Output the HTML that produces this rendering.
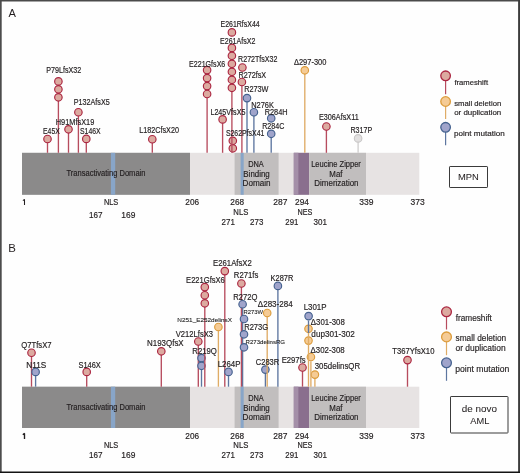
<!DOCTYPE html>
<html><head><meta charset="utf-8"><style>
html,body{margin:0;padding:0;background:#fff;}
svg{display:block;will-change:transform;}
text{font-family:"Liberation Sans",sans-serif;}
</style></head><body>
<svg width="520" height="473" viewBox="0 0 520 473">
<rect width="520" height="473" fill="#fefefe"/>
<rect x="22" y="152.8" width="397.3" height="42.0" fill="#e7e3e3"/>
<rect x="22" y="152.8" width="168" height="42.0" fill="#8b8a8a"/>
<rect x="234.6" y="152.8" width="44.00000000000003" height="42.0" fill="#c1bebe"/>
<rect x="293.8" y="152.8" width="15.300000000000011" height="42.0" fill="#8a6f8e"/>
<rect x="293.8" y="152.8" width="4.599999999999966" height="42.0" fill="#a48fa8"/>
<rect x="309.2" y="152.8" width="56.80000000000001" height="42.0" fill="#c1bebe"/>
<rect x="110.9" y="152.8" width="4.3" height="42.0" fill="#88a5c8"/>
<rect x="240.6" y="152.8" width="3.1" height="42.0" fill="#88a5c8"/>
<line x1="47.5" y1="139.0" x2="47.5" y2="152.8" stroke="#b74c5e" stroke-width="1.35"/>
<circle cx="47.5" cy="139.0" r="3.75" fill="#dcaaa0" stroke="#ab2641" stroke-width="1.15"/>
<line x1="58.4" y1="81.4" x2="58.4" y2="152.8" stroke="#b74c5e" stroke-width="1.35"/>
<circle cx="58.4" cy="81.4" r="3.75" fill="#dcaaa0" stroke="#ab2641" stroke-width="1.15"/>
<circle cx="58.4" cy="89.3" r="3.75" fill="#dcaaa0" stroke="#ab2641" stroke-width="1.15"/>
<circle cx="58.4" cy="97.3" r="3.75" fill="#dcaaa0" stroke="#ab2641" stroke-width="1.15"/>
<line x1="68.5" y1="129.3" x2="68.5" y2="152.8" stroke="#b74c5e" stroke-width="1.35"/>
<circle cx="68.5" cy="129.3" r="3.75" fill="#dcaaa0" stroke="#ab2641" stroke-width="1.15"/>
<line x1="78.4" y1="112.2" x2="78.4" y2="152.8" stroke="#b74c5e" stroke-width="1.35"/>
<circle cx="78.4" cy="112.2" r="3.75" fill="#dcaaa0" stroke="#ab2641" stroke-width="1.15"/>
<line x1="86.3" y1="138.9" x2="86.3" y2="152.8" stroke="#b74c5e" stroke-width="1.35"/>
<circle cx="86.3" cy="138.9" r="3.75" fill="#dcaaa0" stroke="#ab2641" stroke-width="1.15"/>
<line x1="152.3" y1="139.2" x2="152.3" y2="152.8" stroke="#b74c5e" stroke-width="1.35"/>
<circle cx="152.3" cy="139.2" r="3.75" fill="#dcaaa0" stroke="#ab2641" stroke-width="1.15"/>
<line x1="207.1" y1="70.1" x2="207.1" y2="152.8" stroke="#b74c5e" stroke-width="1.35"/>
<circle cx="207.1" cy="70.1" r="3.75" fill="#dcaaa0" stroke="#ab2641" stroke-width="1.15"/>
<circle cx="207.1" cy="78.1" r="3.75" fill="#dcaaa0" stroke="#ab2641" stroke-width="1.15"/>
<circle cx="207.1" cy="86.1" r="3.75" fill="#dcaaa0" stroke="#ab2641" stroke-width="1.15"/>
<circle cx="207.1" cy="94.0" r="3.75" fill="#dcaaa0" stroke="#ab2641" stroke-width="1.15"/>
<line x1="222.6" y1="119.4" x2="222.6" y2="152.8" stroke="#b74c5e" stroke-width="1.35"/>
<circle cx="222.6" cy="119.4" r="3.75" fill="#dcaaa0" stroke="#ab2641" stroke-width="1.15"/>
<circle cx="232.8" cy="140.8" r="3.75" fill="#dcaaa0" stroke="#ab2641" stroke-width="1.15"/>
<circle cx="232.8" cy="148.3" r="3.75" fill="#dcaaa0" stroke="#ab2641" stroke-width="1.15"/>
<circle cx="231.9" cy="32.4" r="3.75" fill="#dcaaa0" stroke="#ab2641" stroke-width="1.15"/>
<line x1="231.9" y1="47.9" x2="231.9" y2="152.8" stroke="#b74c5e" stroke-width="1.35"/>
<circle cx="231.9" cy="47.9" r="3.75" fill="#dcaaa0" stroke="#ab2641" stroke-width="1.15"/>
<circle cx="231.9" cy="55.8" r="3.75" fill="#dcaaa0" stroke="#ab2641" stroke-width="1.15"/>
<circle cx="231.9" cy="63.8" r="3.75" fill="#dcaaa0" stroke="#ab2641" stroke-width="1.15"/>
<circle cx="231.9" cy="71.8" r="3.75" fill="#dcaaa0" stroke="#ab2641" stroke-width="1.15"/>
<circle cx="231.9" cy="79.8" r="3.75" fill="#dcaaa0" stroke="#ab2641" stroke-width="1.15"/>
<circle cx="231.9" cy="87.8" r="3.75" fill="#dcaaa0" stroke="#ab2641" stroke-width="1.15"/>
<circle cx="242.4" cy="67.5" r="3.75" fill="#dcaaa0" stroke="#ab2641" stroke-width="1.15"/>
<line x1="241.9" y1="82.0" x2="241.9" y2="152.8" stroke="#b74c5e" stroke-width="1.35"/>
<circle cx="241.9" cy="82.0" r="3.75" fill="#dcaaa0" stroke="#ab2641" stroke-width="1.15"/>
<line x1="247.0" y1="98.1" x2="247.0" y2="152.8" stroke="#5d76a0" stroke-width="1.35"/>
<circle cx="247.0" cy="98.1" r="3.75" fill="#a0a4cb" stroke="#45628f" stroke-width="1.15"/>
<line x1="253.9" y1="112.2" x2="253.9" y2="152.8" stroke="#5d76a0" stroke-width="1.35"/>
<circle cx="253.9" cy="112.2" r="3.75" fill="#a0a4cb" stroke="#45628f" stroke-width="1.15"/>
<circle cx="271.2" cy="118.3" r="3.75" fill="#a0a4cb" stroke="#45628f" stroke-width="1.15"/>
<line x1="271.2" y1="133.8" x2="271.2" y2="152.8" stroke="#5d76a0" stroke-width="1.35"/>
<circle cx="271.2" cy="133.8" r="3.75" fill="#a0a4cb" stroke="#45628f" stroke-width="1.15"/>
<line x1="304.8" y1="70.3" x2="304.8" y2="152.8" stroke="#dfac66" stroke-width="1.35"/>
<circle cx="304.8" cy="70.3" r="3.75" fill="#f5cb95" stroke="#dc9c3c" stroke-width="1.15"/>
<line x1="326.4" y1="126.5" x2="326.4" y2="152.8" stroke="#b74c5e" stroke-width="1.35"/>
<circle cx="326.4" cy="126.5" r="3.75" fill="#dcaaa0" stroke="#ab2641" stroke-width="1.15"/>
<line x1="358.1" y1="138.4" x2="358.1" y2="152.8" stroke="#d0cece" stroke-width="1.35"/>
<circle cx="358.1" cy="138.4" r="3.75" fill="#e2e0e0" stroke="#c9c7c7" stroke-width="1.15"/>
<text x="43.04" y="134.04" font-size="8.2" textLength="16.70" lengthAdjust="spacingAndGlyphs" fill="#231f20" stroke="#231f20" stroke-width="0.17">E45X</text>
<text x="46.21" y="73.04" font-size="8.2" textLength="35.05" lengthAdjust="spacingAndGlyphs" fill="#231f20" stroke="#231f20" stroke-width="0.17">P79LfsX32</text>
<text x="55.79" y="124.64" font-size="8.2" textLength="38.55" lengthAdjust="spacingAndGlyphs" fill="#231f20" stroke="#231f20" stroke-width="0.17">H91MfsX19</text>
<text x="73.71" y="104.54" font-size="8.2" textLength="35.99" lengthAdjust="spacingAndGlyphs" fill="#231f20" stroke="#231f20" stroke-width="0.17">P132AfsX5</text>
<text x="79.99" y="134.24" font-size="8.2" textLength="20.66" lengthAdjust="spacingAndGlyphs" fill="#231f20" stroke="#231f20" stroke-width="0.17">S146X</text>
<text x="139.21" y="133.34" font-size="8.2" textLength="39.78" lengthAdjust="spacingAndGlyphs" fill="#231f20" stroke="#231f20" stroke-width="0.17">L182CfsX20</text>
<text x="189.02" y="67.04" font-size="8.2" textLength="36.29" lengthAdjust="spacingAndGlyphs" fill="#231f20" stroke="#231f20" stroke-width="0.17">E221GfsX6</text>
<text x="220.53" y="27.34" font-size="8.2" textLength="39.18" lengthAdjust="spacingAndGlyphs" fill="#231f20" stroke="#231f20" stroke-width="0.17">E261RfsX44</text>
<text x="220.02" y="43.74" font-size="8.2" textLength="35.33" lengthAdjust="spacingAndGlyphs" fill="#231f20" stroke="#231f20" stroke-width="0.17">E261AfsX2</text>
<text x="210.41" y="114.74" font-size="8.2" textLength="34.99" lengthAdjust="spacingAndGlyphs" fill="#231f20" stroke="#231f20" stroke-width="0.17">L245VfsX5</text>
<text x="225.89" y="136.24" font-size="8.2" textLength="38.55" lengthAdjust="spacingAndGlyphs" fill="#231f20" stroke="#231f20" stroke-width="0.17">S262PfsX41</text>
<text x="238.12" y="61.54" font-size="8.2" textLength="39.34" lengthAdjust="spacingAndGlyphs" fill="#231f20" stroke="#231f20" stroke-width="0.17">R272TfsX32</text>
<text x="238.41" y="77.54" font-size="8.2" textLength="27.75" lengthAdjust="spacingAndGlyphs" fill="#231f20" stroke="#231f20" stroke-width="0.17">R272fsX</text>
<text x="244.20" y="92.34" font-size="8.2" textLength="24.32" lengthAdjust="spacingAndGlyphs" fill="#231f20" stroke="#231f20" stroke-width="0.17">R273W</text>
<text x="251.19" y="108.14" font-size="8.2" textLength="22.80" lengthAdjust="spacingAndGlyphs" fill="#231f20" stroke="#231f20" stroke-width="0.17">N276K</text>
<text x="264.70" y="114.74" font-size="8.2" textLength="22.90" lengthAdjust="spacingAndGlyphs" fill="#231f20" stroke="#231f20" stroke-width="0.17">R284H</text>
<text x="262.22" y="128.94" font-size="8.2" textLength="22.15" lengthAdjust="spacingAndGlyphs" fill="#231f20" stroke="#231f20" stroke-width="0.17">R284C</text>
<text x="293.98" y="65.34" font-size="8.2" textLength="32.41" lengthAdjust="spacingAndGlyphs" fill="#231f20" stroke="#231f20" stroke-width="0.17">Δ297-300</text>
<text x="318.91" y="120.24" font-size="8.2" textLength="39.84" lengthAdjust="spacingAndGlyphs" fill="#231f20" stroke="#231f20" stroke-width="0.17">E306AfsX11</text>
<text x="350.42" y="132.74" font-size="8.2" textLength="21.76" lengthAdjust="spacingAndGlyphs" fill="#231f20" stroke="#231f20" stroke-width="0.17">R317P</text>
<text x="66.53" y="176.44" font-size="8.2" textLength="78.96" lengthAdjust="spacingAndGlyphs" fill="#231f20" stroke="#231f20" stroke-width="0.17">Transactivating Domain</text>
<text x="248.14" y="166.69" font-size="8.2" textLength="15.62" lengthAdjust="spacingAndGlyphs" fill="#231f20" stroke="#231f20" stroke-width="0.17">DNA</text>
<text x="243.35" y="176.69" font-size="8.2" textLength="26.41" lengthAdjust="spacingAndGlyphs" fill="#231f20" stroke="#231f20" stroke-width="0.17">Binding</text>
<text x="242.58" y="186.19" font-size="8.2" textLength="27.94" lengthAdjust="spacingAndGlyphs" fill="#231f20" stroke="#231f20" stroke-width="0.17">Domain</text>
<text x="311.13" y="167.19" font-size="8.2" textLength="49.74" lengthAdjust="spacingAndGlyphs" fill="#231f20" stroke="#231f20" stroke-width="0.17">Leucine Zipper</text>
<text x="329.35" y="176.69" font-size="8.2" textLength="13.13" lengthAdjust="spacingAndGlyphs" fill="#231f20" stroke="#231f20" stroke-width="0.17">Maf</text>
<text x="314.35" y="186.19" font-size="8.2" textLength="44.17" lengthAdjust="spacingAndGlyphs" fill="#231f20" stroke="#231f20" stroke-width="0.17">Dimerization</text>
<path d="M22.9,200.7 L24.5,199.4 L24.5,205.1" fill="none" stroke="#231f20" stroke-width="1.05" stroke-linejoin="bevel"/>
<text x="103.89" y="205.24" font-size="8.2" textLength="14.45" lengthAdjust="spacingAndGlyphs" fill="#231f20" stroke="#231f20" stroke-width="0.17">NLS</text>
<text x="88.88" y="217.94" font-size="8.2" textLength="13.53" lengthAdjust="spacingAndGlyphs" fill="#231f20" stroke="#231f20" stroke-width="0.17">167</text>
<text x="121.36" y="217.94" font-size="8.2" textLength="14.04" lengthAdjust="spacingAndGlyphs" fill="#231f20" stroke="#231f20" stroke-width="0.17">169</text>
<text x="185.33" y="205.24" font-size="8.2" textLength="13.78" lengthAdjust="spacingAndGlyphs" fill="#231f20" stroke="#231f20" stroke-width="0.17">206</text>
<text x="230.33" y="205.24" font-size="8.2" textLength="13.77" lengthAdjust="spacingAndGlyphs" fill="#231f20" stroke="#231f20" stroke-width="0.17">268</text>
<text x="233.37" y="214.69" font-size="8.2" textLength="14.99" lengthAdjust="spacingAndGlyphs" fill="#231f20" stroke="#231f20" stroke-width="0.17">NLS</text>
<text x="221.60" y="224.69" font-size="8.2" textLength="13.29" lengthAdjust="spacingAndGlyphs" fill="#231f20" stroke="#231f20" stroke-width="0.17">271</text>
<text x="250.10" y="224.69" font-size="8.2" textLength="13.25" lengthAdjust="spacingAndGlyphs" fill="#231f20" stroke="#231f20" stroke-width="0.17">273</text>
<text x="273.32" y="205.24" font-size="8.2" textLength="14.10" lengthAdjust="spacingAndGlyphs" fill="#231f20" stroke="#231f20" stroke-width="0.17">287</text>
<text x="295.08" y="205.24" font-size="8.2" textLength="13.91" lengthAdjust="spacingAndGlyphs" fill="#231f20" stroke="#231f20" stroke-width="0.17">294</text>
<text x="297.40" y="214.69" font-size="8.2" textLength="14.93" lengthAdjust="spacingAndGlyphs" fill="#231f20" stroke="#231f20" stroke-width="0.17">NES</text>
<text x="285.36" y="224.69" font-size="8.2" textLength="13.02" lengthAdjust="spacingAndGlyphs" fill="#231f20" stroke="#231f20" stroke-width="0.17">291</text>
<text x="313.44" y="224.69" font-size="8.2" textLength="13.45" lengthAdjust="spacingAndGlyphs" fill="#231f20" stroke="#231f20" stroke-width="0.17">301</text>
<text x="359.18" y="205.24" font-size="8.2" textLength="14.23" lengthAdjust="spacingAndGlyphs" fill="#231f20" stroke="#231f20" stroke-width="0.17">339</text>
<text x="410.43" y="205.24" font-size="8.2" textLength="14.20" lengthAdjust="spacingAndGlyphs" fill="#231f20" stroke="#231f20" stroke-width="0.17">373</text>
<line x1="445.6" y1="75.8" x2="445.6" y2="94.2" stroke="#b74c5e" stroke-width="1.2"/>
<circle cx="445.6" cy="75.8" r="4.8" fill="#dcaaa0" stroke="#ab2641" stroke-width="1.3"/>
<line x1="445.6" y1="101.5" x2="445.6" y2="119.0" stroke="#dfac66" stroke-width="1.2"/>
<circle cx="445.6" cy="101.5" r="4.8" fill="#f5cb95" stroke="#dc9c3c" stroke-width="1.3"/>
<line x1="445.6" y1="127.3" x2="445.6" y2="145.2" stroke="#5d76a0" stroke-width="1.2"/>
<circle cx="445.6" cy="127.3" r="4.8" fill="#a0a4cb" stroke="#45628f" stroke-width="1.3"/>
<text x="454.39" y="84.90" font-size="7.7" textLength="33.66" lengthAdjust="spacingAndGlyphs" fill="#231f20" stroke="#231f20" stroke-width="0.17">frameshift</text>
<text x="454.29" y="105.90" font-size="7.7" textLength="46.91" lengthAdjust="spacingAndGlyphs" fill="#231f20" stroke="#231f20" stroke-width="0.17">small deletion</text>
<text x="454.17" y="115.10" font-size="7.7" textLength="47.05" lengthAdjust="spacingAndGlyphs" fill="#231f20" stroke="#231f20" stroke-width="0.17">or duplication</text>
<text x="453.98" y="136.10" font-size="7.7" textLength="50.75" lengthAdjust="spacingAndGlyphs" fill="#231f20" stroke="#231f20" stroke-width="0.17">point mutation</text>
<rect x="449.5" y="166.5" width="38" height="21" rx="0.6" fill="none" stroke="#3a3a3a" stroke-width="1"/>
<text x="458.03" y="180.19" font-size="9.2" textLength="20.83" lengthAdjust="spacingAndGlyphs" fill="#231f20" stroke="#231f20" stroke-width="0.04">MPN</text>
<rect x="22" y="386.7" width="397.3" height="41.30000000000001" fill="#e7e3e3"/>
<rect x="22" y="386.7" width="168" height="41.30000000000001" fill="#8b8a8a"/>
<rect x="234.6" y="386.7" width="44.00000000000003" height="41.30000000000001" fill="#c1bebe"/>
<rect x="293.8" y="386.7" width="15.300000000000011" height="41.30000000000001" fill="#8a6f8e"/>
<rect x="293.8" y="386.7" width="4.599999999999966" height="41.30000000000001" fill="#a48fa8"/>
<rect x="309.2" y="386.7" width="56.80000000000001" height="41.30000000000001" fill="#c1bebe"/>
<rect x="110.9" y="386.7" width="4.3" height="41.30000000000001" fill="#88a5c8"/>
<rect x="240.6" y="386.7" width="3.1" height="41.30000000000001" fill="#88a5c8"/>
<line x1="31.5" y1="352.7" x2="31.5" y2="386.7" stroke="#b74c5e" stroke-width="1.35"/>
<circle cx="31.5" cy="352.7" r="3.75" fill="#dcaaa0" stroke="#ab2641" stroke-width="1.15"/>
<line x1="35.6" y1="371.9" x2="35.6" y2="386.7" stroke="#5d76a0" stroke-width="1.35"/>
<circle cx="35.6" cy="371.9" r="3.75" fill="#a0a4cb" stroke="#45628f" stroke-width="1.15"/>
<line x1="86.7" y1="371.9" x2="86.7" y2="386.7" stroke="#b74c5e" stroke-width="1.35"/>
<circle cx="86.7" cy="371.9" r="3.75" fill="#dcaaa0" stroke="#ab2641" stroke-width="1.15"/>
<line x1="161.3" y1="351.3" x2="161.3" y2="386.7" stroke="#b74c5e" stroke-width="1.35"/>
<circle cx="161.3" cy="351.3" r="3.75" fill="#dcaaa0" stroke="#ab2641" stroke-width="1.15"/>
<line x1="198.3" y1="341.5" x2="198.3" y2="386.7" stroke="#b74c5e" stroke-width="1.35"/>
<circle cx="198.3" cy="341.5" r="3.75" fill="#dcaaa0" stroke="#ab2641" stroke-width="1.15"/>
<line x1="201.5" y1="358.1" x2="201.5" y2="386.7" stroke="#5d76a0" stroke-width="1.35"/>
<circle cx="201.5" cy="358.1" r="3.75" fill="#a0a4cb" stroke="#45628f" stroke-width="1.15"/>
<circle cx="201.5" cy="365.8" r="3.75" fill="#a0a4cb" stroke="#45628f" stroke-width="1.15"/>
<line x1="204.8" y1="287.1" x2="204.8" y2="386.7" stroke="#b74c5e" stroke-width="1.35"/>
<circle cx="204.8" cy="287.1" r="3.75" fill="#dcaaa0" stroke="#ab2641" stroke-width="1.15"/>
<circle cx="204.8" cy="295.2" r="3.75" fill="#dcaaa0" stroke="#ab2641" stroke-width="1.15"/>
<circle cx="204.8" cy="303.3" r="3.75" fill="#dcaaa0" stroke="#ab2641" stroke-width="1.15"/>
<line x1="218.4" y1="327.0" x2="218.4" y2="386.7" stroke="#dfac66" stroke-width="1.35"/>
<circle cx="218.4" cy="327.0" r="3.75" fill="#f5cb95" stroke="#dc9c3c" stroke-width="1.15"/>
<line x1="224.8" y1="271.1" x2="224.8" y2="386.7" stroke="#b74c5e" stroke-width="1.35"/>
<circle cx="224.8" cy="271.1" r="3.75" fill="#dcaaa0" stroke="#ab2641" stroke-width="1.15"/>
<line x1="228.5" y1="371.9" x2="228.5" y2="386.7" stroke="#5d76a0" stroke-width="1.35"/>
<circle cx="228.5" cy="371.9" r="3.75" fill="#a0a4cb" stroke="#45628f" stroke-width="1.15"/>
<line x1="242.6" y1="304.2" x2="242.6" y2="386.7" stroke="#5d76a0" stroke-width="1.35"/>
<line x1="241.4" y1="283.5" x2="241.4" y2="386.7" stroke="#b74c5e" stroke-width="1.35"/>
<circle cx="241.4" cy="283.5" r="3.75" fill="#dcaaa0" stroke="#ab2641" stroke-width="1.15"/>
<circle cx="242.6" cy="304.2" r="3.75" fill="#a0a4cb" stroke="#45628f" stroke-width="1.15"/>
<circle cx="244.0" cy="319.0" r="3.75" fill="#a0a4cb" stroke="#45628f" stroke-width="1.15"/>
<circle cx="244.0" cy="334.3" r="3.75" fill="#a0a4cb" stroke="#45628f" stroke-width="1.15"/>
<circle cx="244.0" cy="347.3" r="3.75" fill="#a0a4cb" stroke="#45628f" stroke-width="1.15"/>
<line x1="265.4" y1="369.6" x2="265.4" y2="386.7" stroke="#5d76a0" stroke-width="1.35"/>
<circle cx="265.4" cy="369.6" r="3.75" fill="#a0a4cb" stroke="#45628f" stroke-width="1.15"/>
<line x1="267.2" y1="313.0" x2="267.2" y2="386.7" stroke="#dfac66" stroke-width="1.35"/>
<circle cx="267.2" cy="313.0" r="3.75" fill="#f5cb95" stroke="#dc9c3c" stroke-width="1.15"/>
<line x1="277.9" y1="285.9" x2="277.9" y2="386.7" stroke="#5d76a0" stroke-width="1.35"/>
<circle cx="277.9" cy="285.9" r="3.75" fill="#a0a4cb" stroke="#45628f" stroke-width="1.15"/>
<line x1="302.5" y1="367.5" x2="302.5" y2="386.7" stroke="#b74c5e" stroke-width="1.35"/>
<circle cx="302.5" cy="367.5" r="3.75" fill="#dcaaa0" stroke="#ab2641" stroke-width="1.15"/>
<circle cx="308.6" cy="316.1" r="3.75" fill="#a0a4cb" stroke="#45628f" stroke-width="1.15"/>
<circle cx="308.5" cy="328.8" r="3.75" fill="#f5cb95" stroke="#dc9c3c" stroke-width="1.15"/>
<circle cx="308.5" cy="340.6" r="3.75" fill="#f5cb95" stroke="#dc9c3c" stroke-width="1.15"/>
<circle cx="310.9" cy="357.0" r="3.75" fill="#f5cb95" stroke="#dc9c3c" stroke-width="1.15"/>
<line x1="314.9" y1="374.6" x2="314.9" y2="386.7" stroke="#dfac66" stroke-width="1.35"/>
<circle cx="314.9" cy="374.6" r="3.75" fill="#f5cb95" stroke="#dc9c3c" stroke-width="1.15"/>
<line x1="308.5" y1="320.5" x2="308.5" y2="333.0" stroke="#5d76a0" stroke-width="1.35"/>
<line x1="308.5" y1="333.0" x2="308.5" y2="386.7" stroke="#dfac66" stroke-width="1.35"/>
<line x1="310.9" y1="361.2" x2="310.9" y2="386.7" stroke="#dfac66" stroke-width="1.35"/>
<line x1="407.5" y1="360.1" x2="407.5" y2="386.7" stroke="#b74c5e" stroke-width="1.35"/>
<circle cx="407.5" cy="360.1" r="3.75" fill="#dcaaa0" stroke="#ab2641" stroke-width="1.15"/>
<text x="21.34" y="347.74" font-size="8.2" textLength="30.25" lengthAdjust="spacingAndGlyphs" fill="#231f20" stroke="#231f20" stroke-width="0.17">Q7TfsX7</text>
<text x="26.25" y="367.54" font-size="8.2" textLength="19.92" lengthAdjust="spacingAndGlyphs" fill="#231f20" stroke="#231f20" stroke-width="0.17">N11S</text>
<text x="78.46" y="367.54" font-size="8.2" textLength="22.29" lengthAdjust="spacingAndGlyphs" fill="#231f20" stroke="#231f20" stroke-width="0.17">S146X</text>
<text x="147.05" y="346.44" font-size="8.2" textLength="36.62" lengthAdjust="spacingAndGlyphs" fill="#231f20" stroke="#231f20" stroke-width="0.17">N193QfsX</text>
<text x="175.77" y="336.74" font-size="8.2" textLength="37.27" lengthAdjust="spacingAndGlyphs" fill="#231f20" stroke="#231f20" stroke-width="0.17">V212LfsX3</text>
<text x="192.37" y="353.74" font-size="8.2" textLength="24.50" lengthAdjust="spacingAndGlyphs" fill="#231f20" stroke="#231f20" stroke-width="0.17">R219Q</text>
<text x="186.08" y="282.54" font-size="8.2" textLength="38.75" lengthAdjust="spacingAndGlyphs" fill="#231f20" stroke="#231f20" stroke-width="0.17">E221GfsX6</text>
<text x="177.38" y="321.62" font-size="6.2" textLength="54.66" lengthAdjust="spacingAndGlyphs" fill="#222" stroke="#222" stroke-width="0.1">N251_E252delinsX</text>
<text x="213.07" y="266.04" font-size="8.2" textLength="38.72" lengthAdjust="spacingAndGlyphs" fill="#231f20" stroke="#231f20" stroke-width="0.17">E261AfsX2</text>
<text x="217.65" y="367.14" font-size="8.2" textLength="22.76" lengthAdjust="spacingAndGlyphs" fill="#231f20" stroke="#231f20" stroke-width="0.17">L264P</text>
<text x="233.87" y="277.84" font-size="8.2" textLength="24.51" lengthAdjust="spacingAndGlyphs" fill="#231f20" stroke="#231f20" stroke-width="0.17">R271fs</text>
<text x="233.27" y="299.84" font-size="8.2" textLength="24.19" lengthAdjust="spacingAndGlyphs" fill="#231f20" stroke="#231f20" stroke-width="0.17">R272Q</text>
<text x="243.52" y="313.82" font-size="6.2" textLength="19.50" lengthAdjust="spacingAndGlyphs" fill="#222" stroke="#222" stroke-width="0.1">R273W</text>
<text x="244.18" y="330.24" font-size="8.2" textLength="23.99" lengthAdjust="spacingAndGlyphs" fill="#231f20" stroke="#231f20" stroke-width="0.17">R273G</text>
<text x="245.60" y="343.52" font-size="6.2" textLength="39.45" lengthAdjust="spacingAndGlyphs" fill="#222" stroke="#222" stroke-width="0.1">R273delinsRG</text>
<text x="255.82" y="364.84" font-size="8.2" textLength="23.33" lengthAdjust="spacingAndGlyphs" fill="#231f20" stroke="#231f20" stroke-width="0.17">C283R</text>
<text x="257.86" y="307.24" font-size="8.2" textLength="34.77" lengthAdjust="spacingAndGlyphs" fill="#231f20" stroke="#231f20" stroke-width="0.17">Δ283-284</text>
<text x="270.59" y="281.04" font-size="8.2" textLength="22.76" lengthAdjust="spacingAndGlyphs" fill="#231f20" stroke="#231f20" stroke-width="0.17">K287R</text>
<text x="281.67" y="362.74" font-size="8.2" textLength="24.01" lengthAdjust="spacingAndGlyphs" fill="#231f20" stroke="#231f20" stroke-width="0.17">E297fs</text>
<text x="303.65" y="309.84" font-size="8.2" textLength="22.87" lengthAdjust="spacingAndGlyphs" fill="#231f20" stroke="#231f20" stroke-width="0.17">L301P</text>
<text x="310.87" y="324.84" font-size="8.2" textLength="33.97" lengthAdjust="spacingAndGlyphs" fill="#231f20" stroke="#231f20" stroke-width="0.17">Δ301-308</text>
<text x="311.36" y="337.34" font-size="8.2" textLength="43.45" lengthAdjust="spacingAndGlyphs" fill="#231f20" stroke="#231f20" stroke-width="0.17">dup301-302</text>
<text x="310.57" y="353.24" font-size="8.2" textLength="34.18" lengthAdjust="spacingAndGlyphs" fill="#231f20" stroke="#231f20" stroke-width="0.17">Δ302-308</text>
<text x="314.70" y="368.54" font-size="8.2" textLength="45.46" lengthAdjust="spacingAndGlyphs" fill="#231f20" stroke="#231f20" stroke-width="0.17">305delinsQR</text>
<text x="392.23" y="353.84" font-size="8.2" textLength="42.17" lengthAdjust="spacingAndGlyphs" fill="#231f20" stroke="#231f20" stroke-width="0.17">T367YfsX10</text>
<text x="66.53" y="410.24" font-size="8.2" textLength="78.96" lengthAdjust="spacingAndGlyphs" fill="#231f20" stroke="#231f20" stroke-width="0.17">Transactivating Domain</text>
<text x="248.14" y="400.69" font-size="8.2" textLength="15.62" lengthAdjust="spacingAndGlyphs" fill="#231f20" stroke="#231f20" stroke-width="0.17">DNA</text>
<text x="243.35" y="410.69" font-size="8.2" textLength="26.41" lengthAdjust="spacingAndGlyphs" fill="#231f20" stroke="#231f20" stroke-width="0.17">Binding</text>
<text x="242.58" y="420.19" font-size="8.2" textLength="27.94" lengthAdjust="spacingAndGlyphs" fill="#231f20" stroke="#231f20" stroke-width="0.17">Domain</text>
<text x="311.13" y="401.19" font-size="8.2" textLength="49.74" lengthAdjust="spacingAndGlyphs" fill="#231f20" stroke="#231f20" stroke-width="0.17">Leucine Zipper</text>
<text x="329.35" y="410.69" font-size="8.2" textLength="13.13" lengthAdjust="spacingAndGlyphs" fill="#231f20" stroke="#231f20" stroke-width="0.17">Maf</text>
<text x="314.35" y="420.19" font-size="8.2" textLength="44.17" lengthAdjust="spacingAndGlyphs" fill="#231f20" stroke="#231f20" stroke-width="0.17">Dimerization</text>
<path d="M22.8,434.7 L24.5,433.4 L24.5,439.0" fill="none" stroke="#231f20" stroke-width="1.35" stroke-linejoin="bevel"/>
<text x="103.89" y="447.94" font-size="8.2" textLength="14.45" lengthAdjust="spacingAndGlyphs" fill="#231f20" stroke="#231f20" stroke-width="0.17">NLS</text>
<text x="88.88" y="457.94" font-size="8.2" textLength="13.53" lengthAdjust="spacingAndGlyphs" fill="#231f20" stroke="#231f20" stroke-width="0.17">167</text>
<text x="121.36" y="457.94" font-size="8.2" textLength="14.04" lengthAdjust="spacingAndGlyphs" fill="#231f20" stroke="#231f20" stroke-width="0.17">169</text>
<text x="185.33" y="439.19" font-size="8.2" textLength="13.78" lengthAdjust="spacingAndGlyphs" fill="#231f20" stroke="#231f20" stroke-width="0.17">206</text>
<text x="230.33" y="439.19" font-size="8.2" textLength="13.77" lengthAdjust="spacingAndGlyphs" fill="#231f20" stroke="#231f20" stroke-width="0.17">268</text>
<text x="233.37" y="447.94" font-size="8.2" textLength="14.99" lengthAdjust="spacingAndGlyphs" fill="#231f20" stroke="#231f20" stroke-width="0.17">NLS</text>
<text x="221.60" y="457.94" font-size="8.2" textLength="13.29" lengthAdjust="spacingAndGlyphs" fill="#231f20" stroke="#231f20" stroke-width="0.17">271</text>
<text x="250.10" y="457.94" font-size="8.2" textLength="13.25" lengthAdjust="spacingAndGlyphs" fill="#231f20" stroke="#231f20" stroke-width="0.17">273</text>
<text x="273.32" y="439.19" font-size="8.2" textLength="14.10" lengthAdjust="spacingAndGlyphs" fill="#231f20" stroke="#231f20" stroke-width="0.17">287</text>
<text x="295.08" y="439.19" font-size="8.2" textLength="13.91" lengthAdjust="spacingAndGlyphs" fill="#231f20" stroke="#231f20" stroke-width="0.17">294</text>
<text x="297.40" y="447.94" font-size="8.2" textLength="14.93" lengthAdjust="spacingAndGlyphs" fill="#231f20" stroke="#231f20" stroke-width="0.17">NES</text>
<text x="285.36" y="457.94" font-size="8.2" textLength="13.02" lengthAdjust="spacingAndGlyphs" fill="#231f20" stroke="#231f20" stroke-width="0.17">291</text>
<text x="313.44" y="457.94" font-size="8.2" textLength="13.45" lengthAdjust="spacingAndGlyphs" fill="#231f20" stroke="#231f20" stroke-width="0.17">301</text>
<text x="359.18" y="439.19" font-size="8.2" textLength="14.23" lengthAdjust="spacingAndGlyphs" fill="#231f20" stroke="#231f20" stroke-width="0.17">339</text>
<text x="410.43" y="439.19" font-size="8.2" textLength="14.20" lengthAdjust="spacingAndGlyphs" fill="#231f20" stroke="#231f20" stroke-width="0.17">373</text>
<line x1="446.5" y1="311.8" x2="446.5" y2="329.5" stroke="#b74c5e" stroke-width="1.2"/>
<circle cx="446.5" cy="311.8" r="4.9" fill="#dcaaa0" stroke="#ab2641" stroke-width="1.3"/>
<line x1="446.5" y1="336.9" x2="446.5" y2="355.2" stroke="#dfac66" stroke-width="1.2"/>
<circle cx="446.5" cy="336.9" r="4.9" fill="#f5cb95" stroke="#dc9c3c" stroke-width="1.3"/>
<line x1="446.5" y1="362.8" x2="446.5" y2="380.8" stroke="#5d76a0" stroke-width="1.2"/>
<circle cx="446.5" cy="362.8" r="4.9" fill="#a0a4cb" stroke="#45628f" stroke-width="1.3"/>
<text x="455.68" y="320.50" font-size="9.0" textLength="36.18" lengthAdjust="spacingAndGlyphs" fill="#231f20" stroke="#231f20" stroke-width="0.17">frameshift</text>
<text x="455.57" y="341.00" font-size="9.0" textLength="50.67" lengthAdjust="spacingAndGlyphs" fill="#231f20" stroke="#231f20" stroke-width="0.17">small deletion</text>
<text x="455.45" y="351.30" font-size="9.0" textLength="50.20" lengthAdjust="spacingAndGlyphs" fill="#231f20" stroke="#231f20" stroke-width="0.17">or duplication</text>
<text x="455.24" y="371.80" font-size="9.0" textLength="54.11" lengthAdjust="spacingAndGlyphs" fill="#231f20" stroke="#231f20" stroke-width="0.17">point mutation</text>
<rect x="450.5" y="396.5" width="57.5" height="36.5" rx="0.6" fill="none" stroke="#3a3a3a" stroke-width="1"/>
<text x="461.79" y="411.64" font-size="9.6" textLength="35.13" lengthAdjust="spacingAndGlyphs" fill="#231f20" stroke="#231f20" stroke-width="0.06">de novo</text>
<text x="470.28" y="423.54" font-size="9.6" textLength="19.03" lengthAdjust="spacingAndGlyphs" fill="#231f20" stroke="#231f20" stroke-width="0.06">AML</text>
<text x="8.38" y="16.93" font-size="11.4" textLength="7.44" lengthAdjust="spacingAndGlyphs" fill="#231f20" stroke="#231f20" stroke-width="0">A</text>
<text x="8.26" y="252.18" font-size="11.4" textLength="7.64" lengthAdjust="spacingAndGlyphs" fill="#231f20" stroke="#231f20" stroke-width="0">B</text>
<rect x="0" y="0" width="1.7" height="473" fill="#4d4d4d"/>
<rect x="0" y="0" width="520" height="1.5" fill="#4a4a4a"/>
<rect x="518.1" y="0" width="1.9" height="473" fill="#3c3c3c"/>
<rect x="0" y="471.5" width="520" height="1.5" fill="#141414"/>
</svg>
</body></html>
